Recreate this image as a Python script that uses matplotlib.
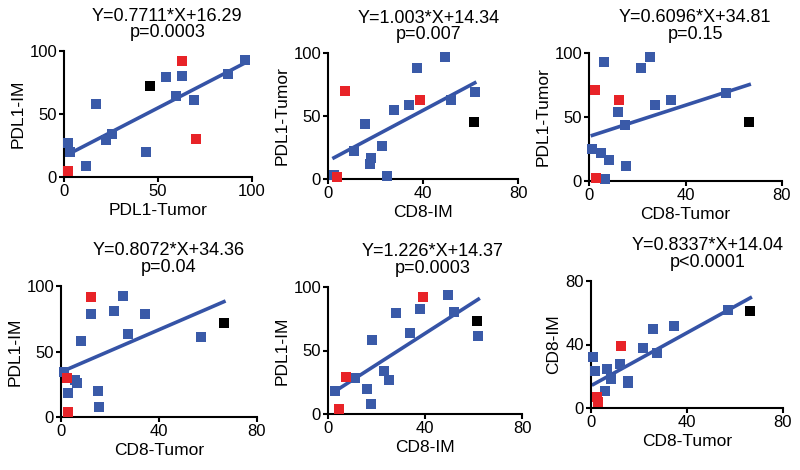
import numpy as np
import matplotlib.pyplot as plt

plt.rcParams['font.family'] = ['Liberation Sans', 'DejaVu Sans']

BLUE = '#3a5aa8'
RED = '#e82328'
LINE = '#3553a6'

# panel 1: PDL1-IM vs PDL1-Tumor
p1_blue_x = [2.3, 3.2, 11.7, 17, 22.3, 25.3, 43.4, 54.5, 62.7, 59.8, 69.2, 87.4, 96.5]
p1_blue_y = [27, 20, 8.7, 58, 29, 34, 20, 79, 80, 64, 61, 82, 93]
p1_red_x = [2.3, 62.8, 70]
p1_red_y = [4.5, 92, 30]
p1_black = (45.5, 72.5)

# panel 2: PDL1-Tumor vs CD8-IM
p2_blue_x = [2.5, 10.9, 15.4, 17.5, 18.2, 22.7, 25, 27.6, 34, 37.6, 49.3, 51.6, 61.8]
p2_blue_y = [3.2, 22, 44, 12, 17, 26, 2.4, 55, 59, 88, 96.6, 63, 69]
p2_red_x = [3.9, 7.3, 38.9]
p2_red_y = [1.8, 70, 63]
p2_black = (61.5, 45)

# panel 3: PDL1-Tumor vs CD8-Tumor
p3_blue_x = [1.4, 5.1, 8.1, 6.1, 6.5, 12, 15, 15.5, 21.7, 25.4, 27.5, 34.1, 56.9]
p3_blue_y = [25, 22, 16.4, 93, 1.6, 54, 44, 11.7, 88, 97, 59.5, 63, 69]
p3_red_x = [2.3, 3, 12.3]
p3_red_y = [71, 2, 63]
p3_black = (66.4, 46)

# panel 4: PDL1-IM vs CD8-Tumor
p4_blue_x = [1.4, 2.7, 5.7, 6.7, 8, 12.1, 15, 15.4, 21.7, 25.5, 27.5, 34.3, 57]
p4_blue_y = [34, 18.5, 28, 26, 58, 78.5, 19.5, 8, 81, 92.7, 63, 79, 61]
p4_red_x = [2.3, 2.7, 12.1]
p4_red_y = [29.6, 3.5, 91.4]
p4_black = (66.5, 72)

# panel 5: PDL1-IM vs CD8-IM
p5_blue_x = [3, 11.3, 15.9, 17.7, 18.2, 23.2, 25.1, 27.9, 34, 37.9, 49.5, 52, 62]
p5_blue_y = [18.5, 28.7, 19.8, 7.8, 58, 34, 26.4, 79.6, 64, 82.5, 93.5, 80, 61.6]
p5_red_x = [4.4, 7.6, 39]
p5_red_y = [3.9, 29.5, 92]
p5_black = (61.5, 73)

# panel 6: CD8-IM vs CD8-Tumor
p6_blue_x = [1, 1.8, 5.8, 6.5, 8.2, 12.1, 15.3, 15.5, 21.8, 25.7, 27.6, 34.5, 57]
p6_blue_y = [32.4, 23, 10.9, 24.6, 18.2, 27.6, 15.7, 17.3, 37.6, 49.5, 34.4, 51.8, 62]
p6_red_x = [2.4, 3, 12.3]
p6_red_y = [6.9, 3.5, 39]
p6_black = (66.4, 61.2)

panels = [
    dict(bx=p1_blue_x, by=p1_blue_y, rx=p1_red_x, ry=p1_red_y, k=p1_black,
         slope=0.7711, icpt=16.29, title='Y=0.7711*X+16.29\np=0.0003',
         xlabel='PDL1-Tumor', ylabel='PDL1-IM', xmax=100, ymax=100,
         xticks=[0, 50, 100], yticks=[0, 50, 100],
         rect=(64, 51, 252, 177), tx=0.55),
    dict(bx=p2_blue_x, by=p2_blue_y, rx=p2_red_x, ry=p2_red_y, k=p2_black,
         slope=1.003, icpt=14.34, title='Y=1.003*X+14.34\np=0.007',
         xlabel='CD8-IM', ylabel='PDL1-Tumor', xmax=80, ymax=100,
         xticks=[0, 40, 80], yticks=[0, 50, 100],
         rect=(328, 53, 518, 179), tx=0.53),
    dict(bx=p3_blue_x, by=p3_blue_y, rx=p3_red_x, ry=p3_red_y, k=p3_black,
         slope=0.6096, icpt=34.81, title='Y=0.6096*X+34.81\np=0.15',
         xlabel='CD8-Tumor', ylabel='PDL1-Tumor', xmax=80, ymax=100,
         xticks=[0, 40, 80], yticks=[0, 50, 100],
         rect=(589, 53, 782, 181), tx=0.55),
    dict(bx=p4_blue_x, by=p4_blue_y, rx=p4_red_x, ry=p4_red_y, k=p4_black,
         slope=0.8072, icpt=34.36, title='Y=0.8072*X+34.36\np=0.04',
         xlabel='CD8-Tumor', ylabel='PDL1-IM', xmax=80, ymax=100,
         xticks=[0, 40, 80], yticks=[0, 50, 100],
         rect=(61, 286, 257, 417), tx=0.55),
    dict(bx=p5_blue_x, by=p5_blue_y, rx=p5_red_x, ry=p5_red_y, k=p5_black,
         slope=1.226, icpt=14.37, title='Y=1.226*X+14.37\np=0.0003',
         xlabel='CD8-IM', ylabel='PDL1-IM', xmax=80, ymax=100,
         xticks=[0, 40, 80], yticks=[0, 50, 100],
         rect=(328, 287, 522, 414), tx=0.54),
    dict(bx=p6_blue_x, by=p6_blue_y, rx=p6_red_x, ry=p6_red_y, k=p6_black,
         slope=0.8337, icpt=14.04, title='Y=0.8337*X+14.04\np<0.0001',
         xlabel='CD8-Tumor', ylabel='CD8-IM', xmax=80, ymax=80,
         xticks=[0, 40, 80], yticks=[0, 40, 80],
         rect=(591, 281, 783, 408), tx=0.61),
]

W, H = 800, 470
fig = plt.figure(figsize=(W / 100, H / 100), dpi=100)

for p in panels:
    l, t, r, b = p['rect']
    ax = fig.add_axes([l / W, 1 - b / H, (r - l) / W, (b - t) / H])

    # regression line over the data range
    allx = p['bx'] + p['rx'] + [p['k'][0]]
    xs = np.array([min(allx), max(allx)])
    ax.plot(xs, p['slope'] * xs + p['icpt'], color=LINE, lw=2.6, zorder=2)

    ax.plot(p['bx'], p['by'], 's', color=BLUE, ms=7.5, mew=0, clip_on=False, zorder=3)
    ax.plot(p['rx'], p['ry'], 's', color=RED, ms=7.5, mew=0, clip_on=False, zorder=4)
    ax.plot([p['k'][0]], [p['k'][1]], 's', color='black', ms=7.5, mew=0, clip_on=False, zorder=4)

    ax.set_xlim(0, p['xmax'])
    ax.set_ylim(0, p['ymax'])
    ax.set_xticks(p['xticks'])
    ax.set_yticks(p['yticks'])
    ax.spines[['top', 'right']].set_visible(False)
    for s in ('left', 'bottom'):
        ax.spines[s].set_linewidth(1.5)
    ax.tick_params(direction='out', length=3.5, width=1.5, labelsize=12, pad=1.5)
    ax.set_xlabel(p['xlabel'], fontsize=12.5, labelpad=3)
    ax.set_ylabel(p['ylabel'], fontsize=12.5, labelpad=3)
    ax.text(p['tx'], 1.08, p['title'], transform=ax.transAxes, ha='center',
            va='bottom', fontsize=13, linespacing=0.95)

fig.savefig('out.png', dpi=100)
